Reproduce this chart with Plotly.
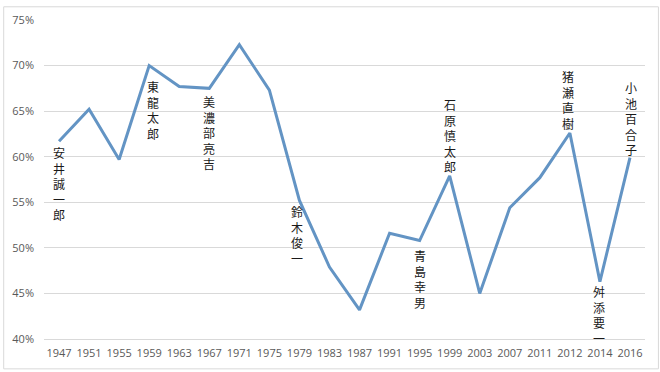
import plotly.graph_objects as go

years = ["1947", "1951", "1955", "1959", "1963", "1967", "1971", "1975", "1979", "1983",
         "1987", "1991", "1995", "1999", "2003", "2007", "2011", "2012", "2014", "2016"]
turnout = [61.7, 65.2, 59.7, 70.0, 67.7, 67.5, 72.3, 67.3, 55.2, 47.9,
           43.2, 51.6, 50.8, 57.9, 45.0, 54.4, 57.7, 62.6, 46.3, 59.9]
label_years = ["1947", "1959", "1967", "1979", "1995", "1999", "2012", "2014", "2016"]
label_names = ["安井誠一郎", "東龍太郎", "美濃部亮吉", "鈴木俊一", "青島幸男",
               "石原慎太郎", "猪瀬直樹", "舛添要一", "小池百合子"]

# label placement style: (position, x pixel shift, gap in px between point and text)
label_style = {
    "1947": ("below", 0, 5), "1959": ("below", 4, 14), "1967": ("below", 0, 7),
    "1979": ("below", -2, 5), "1995": ("below", 0, 8), "1999": ("above", 0, 3),
    "2012": ("above", -2, 3), "2014": ("below", -1, 3), "2016": ("above", 1, 2),
}

W, H = 660, 372
ML, MR, MT, MB = 41, 15, 14, 32
pw, ph = W - ML - MR, H - MT - MB

fig = go.Figure()
fig.add_trace(go.Scatter(
    x=years, y=turnout, mode="lines",
    line=dict(color="#6394C4", width=3),
    hoverinfo="x+y",
))

for yr, name in zip(label_years, label_names):
    pos, dx, gap = label_style[yr]
    idx = years.index(yr)
    val = turnout[idx]
    fig.add_annotation(
        x=idx, y=val, xref="x", yref="y", text="<br>".join(name), showarrow=False,
        xanchor="center", yanchor="top" if pos == "below" else "bottom",
        xshift=dx, yshift=-(gap - 3) if pos == "below" else (gap - 3),
        font=dict(family="Noto Sans CJK JP", size=12, color="#1a1a1a"),
        borderpad=0, align="center",
    )

fig.add_shape(type="rect", xref="paper", yref="paper",
              x0=(0.5 - ML) / pw, x1=(W - 1.5 - ML) / pw,
              y0=(H - MB - (H - 1.5)) / ph, y1=(H - MB - 0.5) / ph,
              line=dict(color="#D9D9D9", width=1), fillcolor="rgba(0,0,0,0)", layer="below")

fig.update_layout(
    width=W, height=H,
    margin=dict(l=ML, r=MR, t=MT, b=MB),
    paper_bgcolor="white", plot_bgcolor="white",
    showlegend=False,
    font=dict(family="Open Sans, sans-serif", size=11, color="#595959"),
)
fig.update_xaxes(
    type="category", range=[-0.5, len(years) - 0.5], showgrid=False, showline=True,
    linecolor="#D9D9D9", linewidth=1, ticklabelstandoff=4,
    ticks="", tickfont=dict(size=11, color="#595959"), fixedrange=True,
)
fig.update_yaxes(
    range=[40, 75], dtick=5, ticksuffix="%", showgrid=True, gridcolor="#D9D9D9",
    gridwidth=1, zeroline=False, showline=False, ticks="", ticklabelstandoff=9,
    tickfont=dict(size=11, color="#595959"), fixedrange=True,
)

fig.write_html("out.html", config={"displayModeBar": False},
               post_script="document.body.style.margin='0';")
